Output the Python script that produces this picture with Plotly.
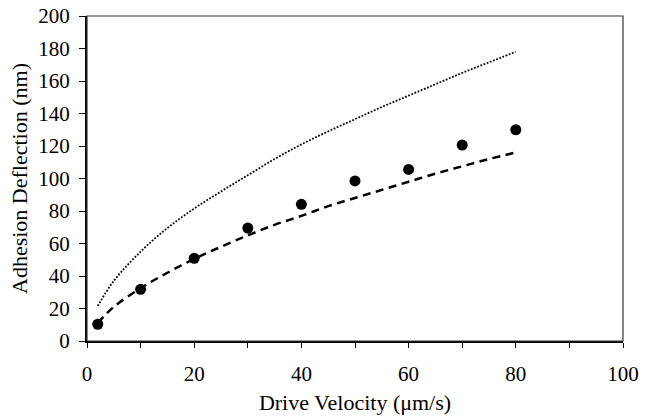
import plotly.graph_objects as go

# Measured data (markers)
data_x = [2, 10, 20, 30, 40, 50, 60, 70, 80]
data_y = [10.3, 31.8, 50.9, 69.5, 84.1, 98.5, 105.6, 120.6, 130.0]

# Dashed model curve
dash_x = [2, 5, 10, 15, 20, 25, 30, 35, 40, 45, 50, 55, 60, 65, 70, 75, 80]
dash_y = [11, 21, 32.5, 42, 50.5, 58, 65, 71.5, 77, 83, 88, 93, 98, 103, 107.5, 112, 116]

# Dotted model curve
dot_x = [2, 5, 10, 15, 20, 25, 30, 35, 40, 45, 50, 55, 60, 65, 70, 75, 80]
dot_y = [21.5, 37, 55, 69.5, 81.5, 92, 102, 112, 121, 129, 136.5, 144, 151, 158, 165, 171.5, 178]

x_tickvals = [0, 10, 20, 30, 40, 50, 60, 70, 80, 90, 100]
x_ticktext = ["0", "", "20", "", "40", "", "60", "", "80", "", "100"]
y_tickvals = [0, 20, 40, 60, 80, 100, 120, 140, 160, 180, 200]

font_family = "Liberation Serif"

fig = go.Figure()
fig.add_trace(go.Scatter(x=dot_x, y=dot_y, mode="lines", line_shape="spline",
                         line=dict(color="black", width=1.8, dash="1.8px,1.6px"),
                         showlegend=False, hoverinfo="skip"))
fig.add_trace(go.Scatter(x=dash_x, y=dash_y, mode="lines", line_shape="spline",
                         line=dict(color="black", width=2.5, dash="8px,5.5px"),
                         showlegend=False, hoverinfo="skip"))
fig.add_trace(go.Scatter(x=data_x, y=data_y, mode="markers",
                         marker=dict(color="black", size=11),
                         showlegend=False))

fig.add_shape(type="rect", xref="paper", yref="paper", x0=0, y0=0, x1=1, y1=1,
              line=dict(color="#333333", width=1.2), layer="above")

fig.update_layout(
    width=654, height=418,
    margin=dict(l=87, r=31, t=16, b=77),
    paper_bgcolor="white", plot_bgcolor="white",
    font=dict(family=font_family, size=21, color="black"),
    xaxis=dict(range=[0, 100], tickvals=x_tickvals, ticktext=x_ticktext,
               showgrid=False, zeroline=False, showline=True, linecolor="black",
               linewidth=2, ticks="outside", ticklen=5, tickwidth=1.2, tickcolor="black",
               automargin=False, ticklabelstandoff=8,
               title=dict(text="Drive Velocity (\u03bcm/s)", font=dict(size=22), standoff=9),
               tickfont=dict(size=21)),
    yaxis=dict(range=[0, 200], tickvals=y_tickvals,
               showgrid=False, zeroline=False, showline=True, linecolor="black",
               linewidth=2, ticks="outside", ticklen=6, tickwidth=1.2, tickcolor="black",
               automargin=False, ticklabelstandoff=5,
               title=dict(text="Adhesion Deflection (nm)", font=dict(size=22), standoff=5),
               tickfont=dict(size=21)),
)

fig.write_html("out.html", config={"displayModeBar": False},
               post_script="document.body.style.margin='0';document.body.style.overflow='hidden';")
